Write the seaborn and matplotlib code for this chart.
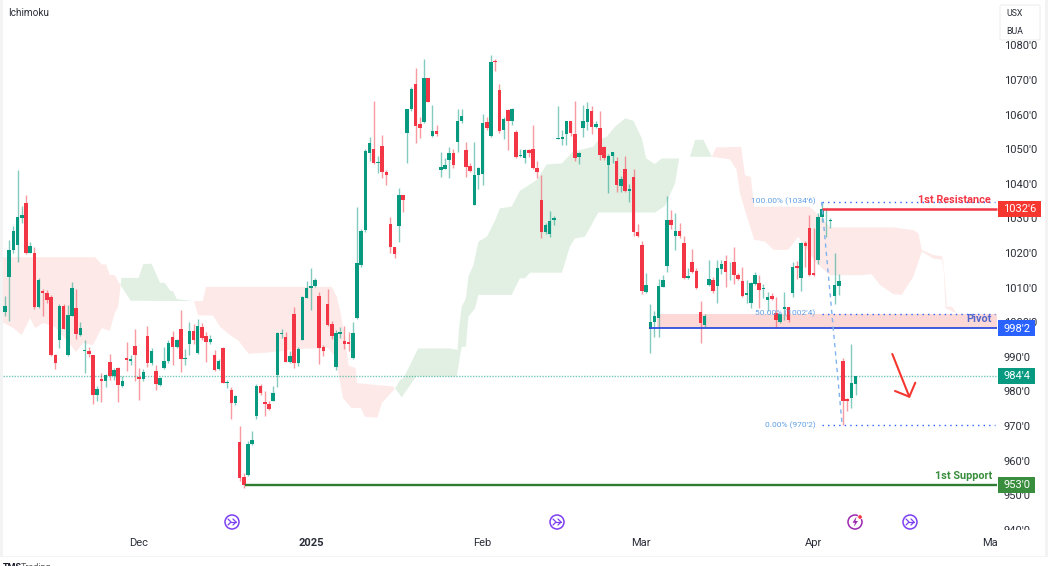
import numpy as np
import pandas as pd
import matplotlib
matplotlib.use("Agg")
import matplotlib.pyplot as plt
import seaborn as sns
from matplotlib.patches import Rectangle, Circle, FancyBboxPatch, Polygon
from matplotlib.transforms import Affine2D

# Candles
opens = [
    1003.0,1013.2,1020.9,1022.3,1030.2,1034.4,1020.0,1020.1,1004.3,1009.0,
    1008.3,1007.2,990.5,995.0,1004.7,990.5,1001.9,1004.2,996.2,991.6,
    991.7,990.4,978.9,983.5,983.0,988.5,984.5,986.9,981.6,989.7,
    988.8,993.1,984.3,983.6,996.0,988.2,986.0,981.9,986.8,988.8,
    995.6,992.7,997.9,989.3,993.7,997.4,991.0,998.7,995.9,994.4,
    990.5,986.4,992.5,982.5,980.4,976.6,965.5,955.3,955.8,964.8,
    972.9,981.7,976.8,976.4,977.3,984.7,996.7,995.6,988.5,1002.4,
    988.1,995.0,1007.1,1009.8,1010.5,1007.7,992.9,1005.3,999.5,987.1,
    996.6,994.6,994.2,989.6,1001.1,1016.5,1026.6,1049.0,1050.0,1045.9,
    1050.9,1043.5,1028.4,1021.8,1027.8,1036.7,1054.8,1061.5,1068.8,1057.2,
    1058.0,1070.5,1053.8,1055.2,1044.0,1044.4,1046.9,1048.9,1052.2,1058.1,
    1049.8,1045.1,1033.9,1042.5,1042.7,1058.0,1053.8,1075.4,1067.1,1055.5,
    1061.3,1058.2,1055.1,1048.0,1047.6,1049.8,1050.0,1044.5,1035.3,1026.1,
    1025.5,1029.5,1053.0,1053.0,1054.4,1058.1,1054.4,1047.7,1056.1,1057.9,
    1060.9,1056.3,1056.1,1050.7,1045.3,1048.0,1046.7,1039.4,1044.2,1038.0,
    1042.0,1026.2,1022.2,1008.8,998.1,1000.1,1001.2,1010.3,1016.3,1029.5,
    1024.8,1026.4,1023.0,1012.8,1017.5,1014.7,1002.9,999.2,1010.7,1012.2,
    1010.5,1015.5,1017.6,1014.7,1017.5,1013.6,1011.8,1008.0,1005.5,1011.0,
    1011.2,1009.5,1006.3,1007.6,1002.6,1000.2,1003.8,1004.4,1008.5,1016.2,
    1012.8,1023.0,1027.1,1014.2,1018.0,1030.3,1029.2,1029.3,1007.6,1010.5,
    988.9,977.8,978.1,982.1,
]
closes = [
    1004.7,1020.8,1026.4,1030.3,1031.0,1019.9,1021.9,1004.3,1012.3,1008.3,
    1006.4,990.4,988.3,1004.7,998.1,1002.2,1009.9,996.6,998.3,991.9,
    990.9,978.9,980.7,983.0,984.6,984.5,986.3,981.9,983.0,989.2,
    989.3,990.6,983.6,985.5,988.2,991.6,982.0,983.9,988.8,993.9,
    992.9,994.8,989.4,989.6,997.4,995.0,998.8,995.3,994.4,995.0,
    986.3,988.8,982.5,982.7,976.7,978.6,954.9,952.9,964.8,966.0,
    981.7,979.4,976.3,974.9,979.6,996.8,996.9,988.6,990.2,988.3,
    992.2,1007.3,1009.9,1010.5,1012.2,992.5,991.6,999.1,996.0,997.0,
    997.2,993.8,993.8,996.8,1017.1,1026.4,1049.4,1051.9,1045.9,1046.3,
    1043.3,1042.5,1021.6,1019.7,1036.9,1035.3,1061.7,1067.5,1056.8,1056.2,
    1070.5,1063.7,1055.2,1054.5,1044.8,1045.4,1048.9,1045.5,1058.1,1059.7,
    1045.0,1043.8,1042.5,1044.6,1057.6,1056.2,1075.3,1075.1,1055.4,1058.6,
    1058.2,1061.6,1047.8,1048.2,1049.8,1049.0,1044.5,1043.5,1026.0,1028.2,
    1029.3,1030.0,1053.2,1053.4,1058.2,1054.8,1047.6,1049.0,1058.1,1061.6,
    1056.3,1057.3,1048.3,1047.4,1048.0,1049.1,1039.7,1041.5,1038.0,1038.4,
    1026.1,1024.8,1009.1,1010.7,1000.0,1001.8,1010.5,1012.2,1029.5,1028.0,
    1026.4,1025.0,1012.8,1013.4,1014.6,1009.8,999.7,1001.8,1012.4,1008.9,
    1015.6,1016.8,1014.6,1014.9,1013.6,1012.5,1007.5,1008.4,1011.2,1013.6,
    1009.3,1009.8,1007.4,1006.8,1000.6,1002.3,1004.3,1000.6,1016.0,1015.6,
    1022.8,1022.1,1013.6,1013.6,1030.4,1032.6,1029.3,1029.5,1010.8,1011.9,
    977.3,977.2,982.3,984.5,
]
highs = [
    1007.7,1023.8,1027.8,1044.0,1033.6,1036.7,1023.1,1021.6,1012.7,1009.5,
    1009.3,1007.9,990.8,1005.3,1005.3,1005.0,1011.6,1009.5,1000.1,995.0,
    992.7,990.6,981.6,985.2,985.0,990.8,986.7,987.1,984.5,994.3,
    990.5,998.0,986.7,986.5,998.9,992.5,987.6,984.3,992.9,994.9,
    997.4,995.2,1003.5,992.3,1000.1,999.5,1001.0,999.7,997.3,996.3,
    992.0,989.3,992.7,983.3,981.2,979.0,970.1,956.5,965.8,968.6,
    982.1,982.0,980.0,977.3,981.7,997.2,998.0,997.1,991.6,1004.5,
    992.9,1007.6,1012.0,1015.7,1012.8,1008.6,993.3,1009.7,1000.4,997.7,
    998.7,999.0,997.3,1000.1,1033.4,1026.9,1050.0,1053.4,1063.9,1048.0,
    1054.1,1044.0,1030.3,1021.8,1038.9,1036.7,1061.7,1067.9,1073.4,1059.4,
    1076.1,1070.5,1062.8,1057.0,1049.3,1047.6,1050.7,1050.1,1061.5,1061.5,
    1052.0,1045.9,1052.0,1045.0,1060.2,1059.2,1077.2,1076.2,1068.7,1059.2,
    1061.7,1061.8,1055.5,1050.1,1050.2,1050.2,1057.0,1046.7,1042.5,1028.6,
    1032.0,1030.7,1062.5,1055.5,1058.2,1058.2,1063.9,1049.3,1062.7,1063.5,
    1062.5,1058.2,1060.9,1051.0,1048.6,1049.3,1047.8,1042.3,1048.0,1039.9,
    1044.2,1028.3,1023.4,1014.3,1005.3,1003.3,1012.4,1013.6,1036.5,1032.4,
    1031.5,1028.6,1024.9,1015.8,1021.1,1015.6,1006.2,1002.4,1018.0,1013.2,
    1018.0,1018.0,1019.4,1017.5,1021.6,1014.1,1015.9,1012.2,1011.7,1014.4,
    1013.6,1011.0,1008.8,1008.3,1007.4,1002.6,1008.7,1004.5,1017.5,1017.7,
    1023.3,1023.4,1031.0,1027.3,1031.5,1034.7,1032.9,1030.2,1020.1,1013.8,
    989.6,978.0,993.6,984.5,
]
lows = [
    1001.9,1000.4,1019.9,1017.5,1028.8,1019.6,1019.9,1003.7,1004.0,1001.9,
    1005.6,990.2,986.4,992.4,997.9,990.2,1001.9,995.2,996.0,985.4,
    990.0,976.4,977.3,976.9,981.2,983.3,983.3,976.9,981.4,986.0,
    987.6,982.9,977.5,982.9,987.0,987.6,980.4,981.6,986.5,988.1,
    987.7,992.5,985.7,987.5,990.6,993.7,990.8,994.9,988.5,993.7,
    986.0,986.2,982.3,981.1,972.1,976.1,954.2,952.1,955.6,964.6,
    971.9,979.0,972.9,974.6,977.1,981.2,995.3,988.4,988.3,986.8,
    987.4,994.9,1006.9,1003.5,1010.3,987.9,990.2,998.9,995.2,986.2,
    995.3,992.2,991.8,989.4,1000.8,1016.0,1026.2,1046.7,1045.7,1043.0,
    1041.6,1039.7,1020.1,1018.5,1023.2,1031.9,1045.9,1061.1,1051.9,1053.1,
    1057.5,1063.6,1053.4,1053.9,1042.1,1044.2,1041.7,1044.7,1049.3,1057.7,
    1042.1,1043.3,1033.9,1038.5,1039.7,1055.5,1053.4,1072.7,1054.6,1053.0,
    1049.8,1057.1,1047.6,1047.8,1046.1,1047.8,1044.2,1041.6,1024.3,1025.5,
    1024.7,1028.2,1053.0,1051.2,1051.2,1053.8,1046.7,1045.7,1053.4,1055.5,
    1054.4,1056.0,1046.9,1046.9,1037.2,1046.1,1037.7,1037.7,1037.6,1034.7,
    1024.9,1024.7,1008.1,1008.5,991.0,995.8,995.8,1010.1,1014.6,1026.8,
    1020.9,1024.2,1012.4,1012.6,1014.3,1009.7,994.1,998.7,1010.5,1008.3,
    1005.5,1013.9,1010.3,1012.2,1011.0,1012.2,1007.2,1005.5,1004.0,1010.8,
    1004.2,1006.9,1003.3,1006.4,998.2,999.9,1000.6,1000.2,1007.2,1012.6,
    1009.0,1016.0,1013.4,1013.4,1016.8,1029.1,1024.5,1027.1,1005.3,1007.9,
    970.3,974.4,975.1,979.0,
]

# Ichimoku cloud outlines as (bar, price)
red1_top = [(-0.5,1018.8),(21.5,1018.8),(23.1,1016.7),(24.1,1016.7),(25,1013.7),(26.2,1013.6),(27.2,1011.4),(27.6,1010.7)]
red1_bot = [(-0.5,999.9),(2,998.3),(4,996.3),(6,1001.2),(7.2,998.3),(9.1,999.8),(12,998.6),(16,992.9),(17,991.4),
            (18.6,994),(21,993.4),(23.1,998.3),(25,997.5),(26.2,1002.7),(27,1004.4),(27.6,1010.7)]
green1_top = [(27.6,1010.7),(27.8,1012.8),(31.9,1012.8),(33,1016.8),(35,1016.9),(37,1011.4),(38.2,1011.3),(39.4,1009.1),
              (40.1,1009),(41,1006.7),(44.9,1006.1)]
green1_bot = [(27.6,1010.7),(30,1006.2),(44.9,1006.1)]
red2_top = [(45.1,1006.1),(47.2,1006.1),(48,1010.2),(78,1010.2),(79.2,1007.4),(80.1,1002.7),(81.3,994),(82,987.5),
            (83.7,986.7),(84,982.4),(92.7,981.4),(93,980.7)]
red2_bot = [(45.1,1006.1),(46.1,1002),(49.7,1001.9),(51.3,998.7),(53.7,996.3),(55.7,994.7),(58.1,990.9),(62.5,991.2),
            (70.4,992.3),(77.1,992.5),(78.8,990),(80.7,978),(82.7,975.2),(84.9,975.2),(85.9,972.7),(88.9,972.4),
            (89.9,976.6),(93,980.7)]
green2_top = [(93.1,980.9),(94.3,983.3),(95.1,983.8),(98.6,992.4),(106.2,992.4),(108,992),(108.4,998.7),(109,1004.5),
              (110,1006.9),(110.6,1013.2),(111.8,1016.5),(113,1023.3),(115,1024.7),(117,1029.5),(118.1,1032.9),
              (120.9,1033.4),(122.9,1038),(124.5,1039.2),(126.9,1041.1),(129.3,1045.6),(132.9,1045.9),(135.6,1049.3),
              (140.4,1050.7),(141.6,1052.7),(143.6,1053.6),(145.6,1056.5),(148,1058.9),(150,1058.2),(152,1053.1),
              (153,1047.4),(155.1,1045.7),(156.7,1047.3),(160.9,1047.3)]
green2_bot = [(93.1,980.9),(94.7,978.3),(98.1,984.3),(107.8,984.3),(109,992.9),(110,992.9),(110.6,1001.6),(112.2,1004),
              (113,1007.9),(120.9,1007.9),(122.9,1012.7),(124.1,1012.7),(125.3,1014.3),(132.9,1014.3),(134.8,1021.8),
              (136,1024.2),(138.4,1024.7),(141.6,1031.7),(155.1,1031.7),(157.5,1033.6),(159.9,1040.1),(160.9,1047.3)]
green3_top = [(163.5,1047.8),(164.7,1052.7),(166.7,1052.7),(168.7,1047.8)]
green3_bot = [(163.5,1047.8),(168.7,1047.8)]
red3_top = [(168.7,1047.8),(169.7,1050.5),(175.7,1050.7),(176.6,1042.5),(178,1042),(178.8,1033.4),(192,1033.4),(193.3,1032),
            (196.9,1027.4),(212,1027.4),(216.8,1026.6),(218,1025.7),(218.8,1020.9),(221.6,1019.4),(223.6,1019.1),
            (224,1017),(224.8,1004.5),(226,1004.5),(227.1,1002.6)]
red3_bot = [(168.7,1047.8),(173,1047.1),(174.6,1044),(175.4,1037.3),(176.6,1032.4),(178.8,1023.8),(181.4,1023.3),(183.4,1020.9),
            (186.9,1020.9),(189.3,1024.7),(190.1,1023.3),(193.7,1017),(196.9,1013.6),(204.5,1013.6),(206.8,1013.9),
            (208.8,1010.8),(212,1008.1),(214,1007.9),(216.8,1013.2),(218.8,1020.4),(221.6,1018.4),(223.6,1018.1),
            (224,1016),(224.5,1004),(227.1,1002.6)]

# Levels
resistance = 1032.75
pivot = 998.25
support = 953.0
last_price = 984.5
pivot_top = 1002.5
fib_levels = [1034.75, 1002.5, 970.25]
fib_labels = ["100.00% (1034'6)", "50.00% (1002'4)", "0.00% (970'2)"]
price_ticks = [940, 950, 960, 970, 980, 990, 1000, 1010, 1020, 1030, 1040, 1050, 1060, 1070, 1080]
month_bars = [32, 73, 113.8, 151.8, 193, 235.1]
month_labels = ["Dec", "2025", "Feb", "Mar", "Apr", "Ma"]

RED = "#f23645"
GREEN = "#089981"
CLOUD_RED = "#fdeae8"
CLOUD_GREEN = "#e2f0e4"

W, H = 1048, 566


def bar_at(x):
    return (x - 5) / 4.19


def price_at(y):
    return 970 + (426 - y) / 3.46


sns.set_theme(style="white")
plt.rcParams["font.family"] = ["Roboto", "DejaVu Sans"]

df = pd.DataFrame({"bar": np.arange(len(opens)), "open": opens, "close": closes, "high": highs, "low": lows})
df["base"] = df[["open", "close"]].min(axis=1)
df["body"] = (df["close"] - df["open"]).abs()
df["up"] = df["close"] >= df["open"]

fig = plt.figure(figsize=(W / 100, H / 100), dpi=100, facecolor="white")
ax = fig.add_axes([3 / W, 1 - 530 / H, 995 / W, 525 / H])
px = Affine2D().scale(1 / W, -1 / H).translate(0, 1) + fig.transFigure

# Cloud
for top, bot, col in [(red1_top, red1_bot, CLOUD_RED), (green1_top, green1_bot, CLOUD_GREEN),
                      (red2_top, red2_bot, CLOUD_RED), (green2_top, green2_bot, CLOUD_GREEN),
                      (green3_top, green3_bot, CLOUD_GREEN), (red3_top, red3_bot, CLOUD_RED)]:
    pts = np.array(top + bot[::-1])
    ax.fill(pts[:, 0], pts[:, 1], color=col, lw=0, zorder=1)

# Pivot band
ax.fill_between([bar_at(657), bar_at(997)], pivot, pivot_top, color="#fcd9d6", lw=0, zorder=1.2)

# Candles
for is_up, col in [(True, GREEN), (False, RED)]:
    part = df[df["up"] == is_up]
    ax.vlines(part["bar"], part["low"], part["high"], color=col, lw=1, alpha=0.5, zorder=2)
    sns.barplot(data=part, x="bar", y="body", bottom=part["base"].to_numpy(), native_scale=True, errorbar=None,
                color=col, saturation=1, width=0.84, linewidth=0, zorder=3, ax=ax)

# Levels and fib
end = bar_at(996.7)
ax.hlines(last_price, bar_at(3), bar_at(998), color=GREEN, lw=1, alpha=0.55, linestyle=(0, (1, 1)), zorder=2)
ax.hlines(resistance, 194.9, end, color=RED, lw=1.8, zorder=4)
ax.hlines(pivot, 153.7, end, color="#2f4fe0", lw=1.3, zorder=4)
ax.hlines(support, 57.3, end, color="#2e7d32", lw=1.7, zorder=4)
for level in fib_levels:
    ax.hlines(level, 194.9, bar_at(995), color="#2962ff", lw=1, linestyle=(0, (1, 3)), zorder=4)
ax.plot([194.9, 199.8], [fib_levels[0], fib_levels[2]], color="#7fb2ee", lw=1, linestyle=(0, (3, 3)), zorder=4)

for level, label in zip(fib_levels, fib_labels):
    ax.text(bar_at(815.5), level + 0.1, label, color="#5f9fe6", fontsize=6, ha="right", va="center", zorder=5)

ax.text(bar_at(991), price_at(200), "1st Resistance", color=RED, fontsize=7.8, fontweight="bold", ha="right", va="center", zorder=5)
ax.text(bar_at(992), price_at(319.5), "Pivot", color="#5566cc", fontsize=7.8, fontweight="bold", ha="right", va="center", zorder=5)
ax.text(bar_at(992), price_at(476), "1st Support", color="#388e3c", fontsize=7.8, fontweight="bold", ha="right", va="center", zorder=5)

# Axes
ax.set_xlim(bar_at(3), bar_at(998))
ax.set_ylim(price_at(530), price_at(5))
ax.set_xlabel("")
ax.set_ylabel("")
sns.despine(ax=ax, left=True, bottom=True)
ax.yaxis.tick_right()
ax.set_yticks(price_ticks)
ax.set_yticklabels([f"{v}'0" for v in price_ticks])
ax.set_xticks(month_bars)
ax.set_xticklabels(month_labels)
ax.tick_params(axis="y", length=0, pad=4, labelsize=8, labelcolor="#2a2e39")
ax.tick_params(axis="x", length=0, pad=5.5, labelsize=8, labelcolor="#2a2e39")
ax.get_xticklabels()[1].set_fontweight("bold")

# Price tags on the right
for price, text, col, right in [(resistance, "1032'6", "#f5372f", 1040.5), (pivot, "998'2", "#2962ff", 1035),
                                (last_price, "984'4", GREEN, 1035), (support, "953'0", "#388e3c", 1035)]:
    half = 2.25
    ax.add_patch(Rectangle((bar_at(998), price - half), bar_at(right) - bar_at(998), 2 * half, color=col, lw=0,
                           clip_on=False, zorder=6))
    ax.text(bar_at((998 + right) / 2), price - 0.1, text, color="white", fontsize=8, ha="center", va="center",
            clip_on=False, zorder=7)

# Panels drawn in pixels
ax.add_patch(Rectangle((999, 530), 45, 26, transform=px, color="white", lw=0, clip_on=False, zorder=5))
ax.add_patch(FancyBboxPatch((1000, 5), 40, 35, boxstyle="round,pad=0,rounding_size=2", transform=px, fc="white",
                            ec="#eeeeee", lw=0.8, clip_on=False, zorder=6))
ax.text(1006, 14, "USX", transform=px, fontsize=6.3, color="#2a2e39", va="center", clip_on=False, zorder=7)
ax.text(1006, 32, "BUA", transform=px, fontsize=6.3, color="#2a2e39", va="center", clip_on=False, zorder=7)
ax.text(8, 13, "Ichimoku", transform=px, fontsize=7.2, color="#2a2e39", va="center", zorder=7)
for rect in [(0, 0, 3, 556), (1045, 0, 3, 556), (0, 555.5, 1048, 1.2)]:
    fig.add_artist(Rectangle(rect[:2], rect[2], rect[3], transform=px, color="#f3f3f3", lw=0, zorder=8))

# Red hand drawn arrow
ax.plot([892.3, 909.3], [354, 396.7], transform=px, color="#f5372f", lw=1.5, zorder=6, clip_on=False)
ax.plot([895, 909.3, 915.3], [391, 396.7, 382.7], transform=px, color="#f5372f", lw=1.5, zorder=6, clip_on=False)

# Event icons
for cx in [232, 557, 910]:
    ax.add_patch(Circle((cx, 522), 7, transform=px, fc="white", ec="#7c3ff2", lw=1.1, zorder=6, clip_on=False))
    ax.plot([cx - 4, cx - 1, cx - 4], [519, 522, 525], transform=px, color="#7c3ff2", lw=0.9, zorder=7)
    ax.plot([cx - 1, cx + 4], [522, 522], transform=px, color="#7c3ff2", lw=0.9, zorder=7)
    ax.plot([cx + 1, cx + 4, cx + 1], [519, 522, 525], transform=px, color="#7c3ff2", lw=0.9, zorder=7)
ax.add_patch(Circle((855, 522), 7, transform=px, fc="white", ec="#9c27b0", lw=1.1, zorder=6, clip_on=False))
ax.add_patch(Polygon([(856.5, 516.5), (852.5, 522.8), (855, 522.8), (853.8, 527), (858, 521), (855.5, 521)], transform=px,
                     color="#9c27b0", lw=0, zorder=7))
ax.add_patch(Circle((860, 517), 2.2, transform=px, fc="#f23645", ec="white", lw=0.5, zorder=8, clip_on=False))

# Footer, cut by the bottom edge in the reference
fig.text(3 / W, 1 - 563.5 / H, "TMS", fontsize=6.5, fontweight="bold", color="#131722", va="top")
fig.text(21 / W, 1 - 563.5 / H, "Trading", fontsize=6.5, color="#555555", va="top")

fig.savefig("out.png", dpi=100)
